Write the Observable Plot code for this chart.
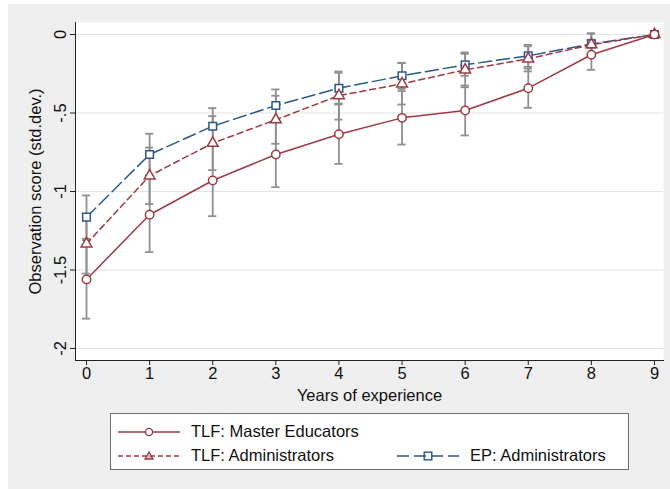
<!DOCTYPE html>
<html>
<head>
<meta charset="utf-8">
<script src="https://cdn.jsdelivr.net/npm/d3@7"></script>
<script src="https://cdn.jsdelivr.net/npm/@observablehq/plot@0.6"></script>
<style>
  html, body { margin: 0; padding: 0; background: #ffffff; }
  #wrap { position: relative; width: 670px; height: 489px; overflow: hidden;
          font-family: "Liberation Sans", Arial, Helvetica, sans-serif; }
  #panel { position: absolute; left: 8px; top: 4px; right: 0; bottom: 0; background: #efefef; }
  #chart { position: absolute; left: 0; top: 0; }
  #legend { position: absolute; left: 110px; top: 413px; width: 517px; height: 55px;
            background: #ffffff; border: 1px solid #6e6e6e; box-sizing: content-box; }
  .item { position: absolute; display: flex; align-items: center; font-size: 16.5px; color: #111; white-space: nowrap; }
  .item svg { display: block; margin-right: 9px; }
</style>
</head>
<body>
<div id="wrap">
  <div id="panel"></div>
  <div id="chart"></div>
  <div id="legend"></div>
</div>
<script>
// Years since entry
const years = [0, 1, 2, 3, 4, 5, 6, 7, 8, 9];

// Point estimates (std.dev.) by series
const masterEd = [-1.56, -1.148, -0.93, -0.764, -0.635, -0.531, -0.484, -0.342, -0.129, 0];
const tlfAdmin = [-1.333, -0.9, -0.692, -0.543, -0.389, -0.314, -0.225, -0.155, -0.065, 0];
const epAdmin  = [-1.163, -0.764, -0.584, -0.452, -0.342, -0.263, -0.193, -0.136, -0.06, 0];

// Half-widths of the confidence intervals
const masterEdCI = [0.25, 0.238, 0.227, 0.208, 0.189, 0.17, 0.159, 0.125, 0.096, 0];
const tlfAdminCI = [0.19, 0.18, 0.172, 0.153, 0.153, 0.132, 0.111, 0.08, 0.07, 0];
const epAdminCI  = [0.138, 0.132, 0.115, 0.102, 0.098, 0.083, 0.07, 0.07, 0.068, 0];

// Series names
const seriesNames = ["TLF: Master Educators", "TLF: Administrators", "EP: Administrators"];

// Axis ticks
const yTicks = [0, -0.5, -1, -1.5, -2];
const yTickLabels = ["0", "-.5", "-1", "-1.5", "-2"];

const maroon = "#9e3a43";
const navy = "#2b5888";
const barGray = "#8f8f8f";

function rows(name, vals, ci) {
  return years.map((yr, i) => ({series: name, year: yr, value: vals[i], lo: vals[i] - ci[i], hi: vals[i] + ci[i], ci: ci[i]}));
}
const dME = rows(seriesNames[0], masterEd, masterEdCI);
const dTA = rows(seriesNames[1], tlfAdmin, tlfAdminCI);
const dEP = rows(seriesNames[2], epAdmin, epAdminCI);
const all = [...dME, ...dTA, ...dEP];
const bars = all.filter(d => d.ci > 0);

const capHalf = 0.065; // half-width of error-bar caps, in years
const yLabel = new Map(yTicks.map((t, i) => [t, yTickLabels[i]]));

const chart = Plot.plot({
  width: 670,
  height: 410,
  marginLeft: 75,
  marginRight: 7,
  marginTop: 22,
  marginBottom: 50,
  x: {domain: [0, 9], insetLeft: 11, insetRight: 9},
  y: {domain: [-2, 0], insetTop: 12, insetBottom: 12},
  style: {fontFamily: "Liberation Sans, Arial, Helvetica, sans-serif", fontSize: "16.5px", color: "#111", background: "transparent", overflow: "visible"},
  marks: [
    Plot.frame({fill: "white", stroke: null}),
    Plot.gridY(yTicks, {stroke: "#e4e4e4", strokeOpacity: 1, strokeWidth: 1.2}),
    Plot.axisY(yTicks, {
      tickFormat: d => yLabel.get(d),
      tickRotate: -90,
      tickSize: 5,
      tickPadding: 5,
      stroke: "#222",
      fontSize: 16.5,
      label: "Observation score (std.dev.)",
      labelAnchor: "center",
      labelArrow: "none",
      labelOffset: 46
    }),
    Plot.axisX(years, {
      tickSize: 5,
      tickPadding: 2,
      stroke: "#222",
      fontSize: 16.5,
      label: "Years of experience",
      labelAnchor: "center",
      labelArrow: "none",
      labelOffset: 40
    }),
    Plot.frame({anchor: "left", stroke: "#222"}),
    Plot.frame({anchor: "bottom", stroke: "#222"}),

    // confidence intervals
    Plot.ruleX(bars, {x: "year", y1: "lo", y2: "hi", stroke: barGray, strokeWidth: 1.8}),
    Plot.ruleY(bars, {y: "lo", x1: d => d.year - capHalf, x2: d => d.year + capHalf, stroke: barGray, strokeWidth: 1.8}),
    Plot.ruleY(bars, {y: "hi", x1: d => d.year - capHalf, x2: d => d.year + capHalf, stroke: barGray, strokeWidth: 1.8}),

    // connected estimates
    Plot.line(dEP, {x: "year", y: "value", stroke: navy, strokeWidth: 1.5, strokeDasharray: "13,5"}),
    Plot.line(dTA, {x: "year", y: "value", stroke: maroon, strokeWidth: 1.5, strokeDasharray: "6,4"}),
    Plot.line(dME, {x: "year", y: "value", stroke: maroon, strokeWidth: 1.5}),

    Plot.dot(dEP, {x: "year", y: "value", symbol: "square", r: 4.3, stroke: navy, fill: "white", strokeWidth: 1.5}),
    Plot.dot(dTA, {x: "year", y: "value", symbol: "triangle", r: 4.0, stroke: maroon, fill: "white", strokeWidth: 1.5}),
    Plot.dot(dME, {x: "year", y: "value", symbol: "circle", r: 4.2, stroke: maroon, fill: "white", strokeWidth: 1.5})
  ]
});
document.getElementById("chart").appendChild(chart);

// Legend
const legendItems = [
  {name: seriesNames[0], color: maroon, dash: null, symbol: "circle", left: 5, top: 8},
  {name: seriesNames[1], color: maroon, dash: "5,3", symbol: "triangle", left: 5, top: 32},
  {name: seriesNames[2], color: navy, dash: "12,5", symbol: "square", left: 284, top: 32}
];
const legend = document.getElementById("legend");
for (const it of legendItems) {
  const div = document.createElement("div");
  div.className = "item";
  div.style.left = it.left + "px";
  div.style.top = it.top + "px";
  const w = 66, h = 18, cy = h / 2, cx = w / 2;
  let marker;
  if (it.symbol === "circle") marker = `<circle cx="${cx}" cy="${cy}" r="3.6" fill="white" stroke="${it.color}" stroke-width="1.4"/>`;
  else if (it.symbol === "triangle") marker = `<path d="M${cx},${cy - 4} L${cx + 4},${cy + 3} L${cx - 4},${cy + 3} Z" fill="${it.color}" fill-opacity="0.35" stroke="${it.color}" stroke-width="1.3"/>`;
  else marker = `<rect x="${cx - 3.8}" y="${cy - 3.8}" width="7.6" height="7.6" fill="none" stroke="${it.color}" stroke-width="1.4"/>`;
  const line = `<line x1="2" x2="${w - 2}" y1="${cy}" y2="${cy}" stroke="${it.color}" stroke-width="1.4" ${it.dash ? `stroke-dasharray="${it.dash}"` : ""}/>`;
  div.innerHTML = `<svg width="${w}" height="${h}">${line}${marker}</svg><span>${it.name}</span>`;
  legend.appendChild(div);
}
</script>
</body>
</html>
